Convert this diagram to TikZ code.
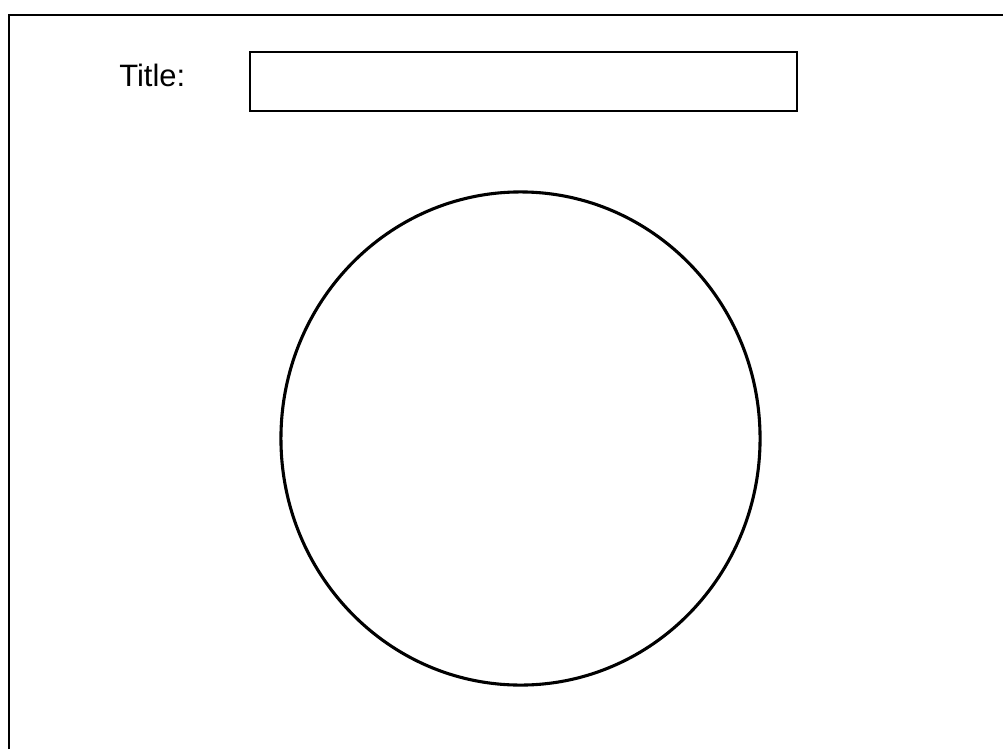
\documentclass[tikz,border=0pt]{standalone}
\usepackage{fontspec}
\setmainfont{Liberation Sans}
\usepackage{tikz}
\usetikzlibrary{
    positioning,
    shapes.geometric
}
\tikzset{
    frame/.style={
        line width=1.6pt
    },
    titlebox/.style={
        draw,
        line width=1.4pt,
        minimum width=13.675cm,
        minimum height=1.475cm,
        inner sep=0pt
    },
    disc/.style={
        draw,
        ellipse,
        line width=2.2pt,
        minimum width=11.975cm,
        minimum height=12.325cm,
        inner sep=0pt
    }
}

\begin{document}
\begin{tikzpicture}[
    x=0.025cm,
    y=-0.025cm
]

    \useasboundingbox (0,0) rectangle (1003,749);

    % Marco
    \draw[frame] (9,749) |- (1003,15);

    % Titulo
    \node[anchor=base west, inner sep=0pt, font=\fontsize{22}{26}\selectfont]
        (titlelbl) at (119,87) {Title:};
    \node[titlebox] (titlefield) at (523.5,81.5) {};

    % Circulo
    \node[disc] (circ) at (520.5,438.5) {};

\end{tikzpicture}
\end{document}
